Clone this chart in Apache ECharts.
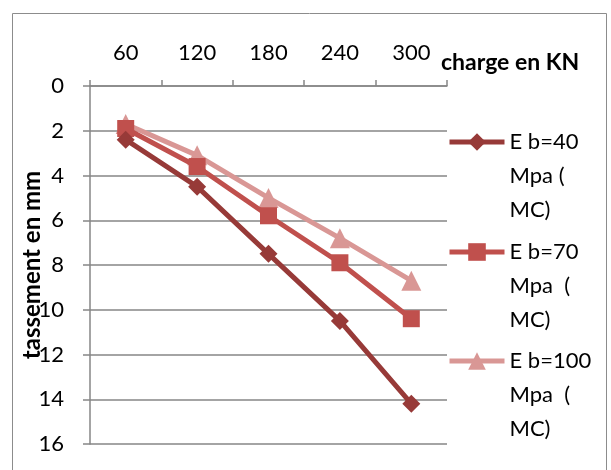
<!DOCTYPE html>
<html>
<head>
<meta charset="utf-8">
<script src="https://cdn.jsdelivr.net/npm/echarts@6/dist/echarts.min.js"></script>
<style>html,body{margin:0;padding:0;background:#fff}#c{width:611px;height:470px}</style>
</head>
<body>
<div id="c"></div>
<script>
const categories = ['60', '120', '180', '240', '300'];
const seriesNames = ['E b=40 Mpa ( MC)', 'E b=70 Mpa  ( MC)', 'E b=100 Mpa  ( MC)'];
const legendLines = [['E b=40', 'Mpa (', 'MC)'], ['E b=70', 'Mpa  (', 'MC)'], ['E b=100', 'Mpa  (', 'MC)']];
const eb40 = [2.4, 4.5, 7.5, 10.5, 14.2];
const eb70 = [1.9, 3.6, 5.8, 7.9, 10.4];
const eb100 = [1.7, 3.1, 5.0, 6.8, 8.7];
const xAxisTitle = 'charge en KN';
const yAxisTitle = 'tassement en mm';

const colors = ['#973a38', '#c0504d', '#d99795'];
const symbols = ['diamond', 'rect', 'triangle'];
const sizes = [18, 17, 20];
const values = [eb40, eb70, eb100];
const FONT = 'Lato';
const legendTops = [57, 167, 276];

const chart = echarts.init(document.getElementById('c'), null, {renderer: 'canvas'});
chart.setOption({
  animation: false,
  backgroundColor: '#fff',
  textStyle: {fontFamily: FONT},
  graphic: [{
    type: 'rect', shape: {x: 12.5, y: 13.5, width: 594, height: 480},
    style: {fill: 'none', stroke: '#8c8c8c', lineWidth: 1}, silent: true, z: -10
  }],
  grid: {left: 90, right: 164, top: 86, height: 358, containLabel: false},
  xAxis: {
    type: 'category', position: 'top', data: categories, boundaryGap: true,
    axisLine: {lineStyle: {color: '#868686', width: 1.5}},
    axisTick: {show: true, length: 6, interval: 0, lineStyle: {color: '#868686', width: 1.5}},
    axisLabel: {color: '#000', fontSize: 22, fontFamily: FONT, margin: 22},
    splitLine: {show: false},
    name: xAxisTitle, nameLocation: 'end', nameGap: -6, nameMoveOverlap: false,
    nameTextStyle: {color: '#000', fontSize: 23, fontWeight: 'bold', fontFamily: FONT, verticalAlign: 'bottom', padding: [0, 0, 12, 0]}
  },
  yAxis: {
    type: 'value', inverse: true, min: 0, max: 16, interval: 2,
    axisLine: {show: true, lineStyle: {color: '#868686', width: 1.5}},
    axisTick: {show: true, length: 7, lineStyle: {color: '#868686', width: 1.5}},
    axisLabel: {color: '#000', fontSize: 22, fontFamily: FONT, margin: 26},
    splitLine: {show: true, lineStyle: {color: '#868686', width: 1.5}},
    name: yAxisTitle, nameLocation: 'middle', nameGap: 46, nameMoveOverlap: false,
    nameTextStyle: {color: '#000', fontSize: 24, fontWeight: 'bold', fontFamily: FONT}
  },
  legend: seriesNames.map((n, i) => ({
    data: [n], orient: 'vertical', left: 447, top: legendTops[i], padding: 0,
    itemWidth: 55, itemHeight: 22, itemGap: 0, selectedMode: false,
    lineStyle: {width: 5},
    formatter: () => [' ', ' '].concat(legendLines[i]).join('\n'),
    textStyle: {color: '#000', fontSize: 22, fontFamily: FONT, lineHeight: 34}
  })),
  series: seriesNames.map((n, i) => ({
    name: n, type: 'line', data: values[i],
    symbol: symbols[i], symbolSize: sizes[i],
    lineStyle: {color: colors[i], width: 5},
    itemStyle: {color: colors[i]},
    z: 3 - i
  }))
});
</script>
</body>
</html>
